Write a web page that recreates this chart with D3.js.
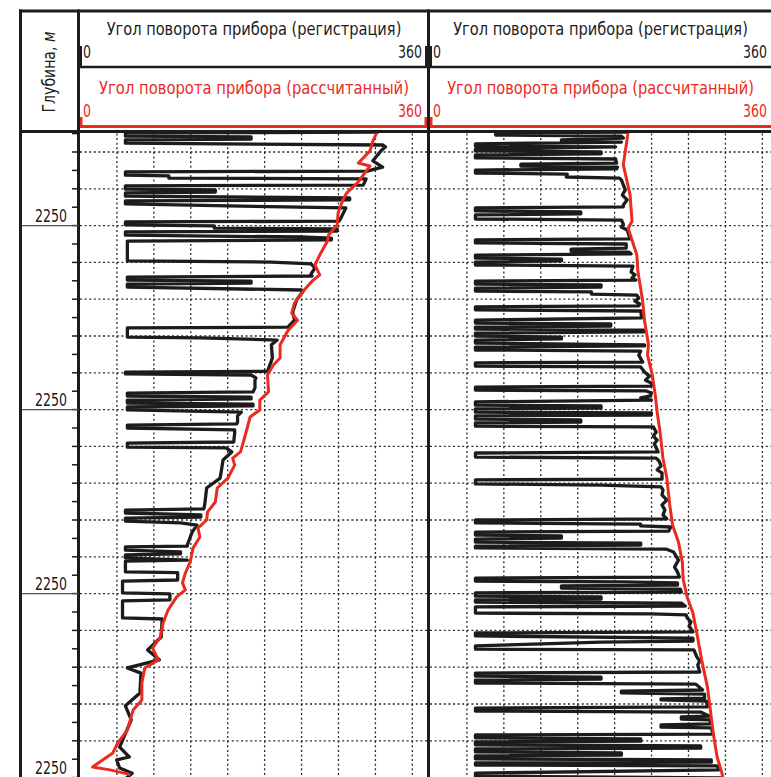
<!DOCTYPE html>
<html>
<head>
<meta charset="utf-8">
<script src="https://cdn.jsdelivr.net/npm/d3@7"></script>
<style>
body { margin: 0; background: #fff; }
svg { display: block; font-family: "Liberation Sans Narrow", "DejaVu Sans Condensed", "Liberation Sans", sans-serif; }
</style>
</head>
<body>
<svg id="chart" width="771" height="777"></svg>
<script>
// ---- data ----
const depthLabelDepths = [2250, 2255, 2260, 2265];
const depthLabelTexts = ["2250", "2250", "2250", "2250"];
const angleDomain = [0, 360];
const angleLabels = ["0", "360"];
const regTitle = "Угол поворота прибора (регистрация)";
const calcTitle = "Угол поворота прибора (рассчитанный)";

// [depth m, angle deg] - registered tool rotation, track 1
const regTrack1 = [
  [2247.46,309],[2247.48,47],[2247.57,47],[2247.59,177],[2247.65,177],[2247.67,47],[2247.76,47],[2247.81,313],
  [2247.86,316],[2247.95,312],[2248.24,303],[2248.41,313],[2248.52,297],[2248.54,47],[2248.63,47],[2248.65,92],
  [2248.71,92],[2248.73,296],[2248.90,293],[2248.92,47],[2249.01,47],[2249.03,140],[2249.09,140],[2249.11,47],
  [2249.20,47],[2249.25,279],[2249.30,279],[2249.33,47],[2249.41,47],[2249.47,167],[2249.52,275],[2249.79,270],
  [2249.88,268],[2249.90,47],[2249.98,47],[2250.01,139],[2250.07,139],[2250.09,266],[2250.15,266],[2250.17,47],
  [2250.26,47],[2250.31,229],[2250.34,260],[2250.39,260],[2250.42,49],[2250.96,49],[2250.99,198],[2251.04,239],
  [2251.15,243],[2251.32,239],[2251.37,240],[2251.40,49],[2251.48,49],[2251.51,177],[2251.56,177],[2251.59,49],
  [2251.67,49],[2251.75,229],[2251.78,231],[2252.02,224],[2252.35,220],[2252.57,222],[2252.76,215],[2252.78,49],
  [2253.03,49],[2253.05,125],[2253.11,204],[2253.24,198],[2253.60,199],[2253.96,194],[2253.98,47],[2254.03,47],
  [2254.06,177],[2254.14,182],[2254.20,181],[2254.41,181],[2254.52,179],[2254.55,49],[2254.63,49],[2254.66,177],
  [2254.71,177],[2254.74,49],[2254.82,49],[2254.85,179],[2254.90,179],[2254.93,49],[2255.01,49],[2255.07,167],
  [2255.17,163],[2255.34,163],[2255.39,162],[2255.42,49],[2255.50,49],[2255.55,160],[2255.64,160],[2255.88,159],
  [2255.91,49],[2256.02,49],[2256.04,151],[2256.15,157],[2256.37,148],[2256.86,145],[2257.13,131],[2257.59,129],
  [2257.70,128],[2257.73,47],[2257.81,47],[2257.86,125],[2257.92,125],[2257.95,47],[2258.03,47],[2258.08,104],
  [2258.14,121],[2258.33,116],[2258.68,111],[2258.71,111],[2258.73,47],[2258.82,47],[2258.87,104],[2258.92,104],
  [2258.95,47],[2259.03,47],[2259.09,111],[2259.12,47],[2259.41,47],[2259.43,101],[2259.63,101],[2259.66,44],
  [2259.98,44],[2260.01,93],[2260.17,93],[2260.20,44],[2260.66,44],[2260.69,85],[2261.18,84],[2261.53,70],
  [2261.80,82],[2262.02,49],[2262.16,63],[2262.70,62],[2263.05,47],[2263.43,53],[2264.17,41],[2264.44,51],
  [2264.52,38],[2264.74,41],[2264.88,54],[2265.01,48]
];

// [depth m, angle deg] - calculated tool rotation, track 1
const calcTrack1 = [
  [2247.45,308],[2247.48,307],[2247.70,303],[2247.97,300],[2248.30,288],[2248.38,300],[2248.63,293],[2248.84,287],
  [2249.11,276],[2249.30,272],[2249.66,267],[2249.98,266],[2250.26,257],[2250.42,256],[2250.80,248],[2251.07,243],
  [2251.34,248],[2251.51,240],[2251.78,231],[2252.10,222],[2252.38,219],[2252.57,225],[2252.86,215],[2253.24,207],
  [2253.60,207],[2253.79,200],[2254.06,194],[2254.52,195],[2254.74,186],[2255.01,186],[2255.20,176],[2255.50,173],
  [2255.88,169],[2256.15,166],[2256.32,158],[2256.51,160],[2256.86,153],[2257.13,142],[2257.51,140],[2257.78,132],
  [2258.00,131],[2258.22,122],[2258.46,124],[2258.76,117],[2259.14,114],[2259.44,109],[2259.71,106],[2259.90,109],
  [2260.09,100],[2260.45,91],[2260.80,86],[2261.18,83],[2261.48,75],[2261.80,81],[2262.02,67],[2262.43,64],
  [2262.89,64],[2263.16,55],[2263.71,49],[2264.06,39],[2264.33,34],[2264.71,13],[2264.79,31],[2264.92,52]
];

// [depth m, angle deg] - registered tool rotation, track 2
const regTrack2 = [
  [2247.46,204],[2247.48,68],[2247.54,68],[2247.57,198],[2247.62,200],[2247.67,136],[2247.70,136],[2247.73,198],
  [2247.78,47],[2247.84,47],[2247.86,192],[2247.92,47],[2247.97,47],[2248.00,177],[2248.05,177],[2248.08,47],
  [2248.16,47],[2248.19,192],[2248.30,193],[2248.33,94],[2248.38,94],[2248.41,194],[2248.46,193],[2248.49,47],
  [2248.57,47],[2248.60,142],[2248.68,141],[2248.71,196],[2248.76,198],[2249.03,202],[2249.17,199],[2249.30,204],
  [2249.44,200],[2249.49,200],[2249.52,47],[2249.60,47],[2249.63,156],[2249.68,156],[2249.71,47],[2249.82,47],
  [2249.85,198],[2249.96,200],[2250.04,198],[2250.12,204],[2250.36,207],[2250.39,47],[2250.47,47],[2250.50,203],
  [2250.61,203],[2250.64,146],[2250.69,146],[2250.72,206],[2250.77,208],[2250.80,47],[2250.88,47],[2250.91,136],
  [2250.96,136],[2250.99,47],[2251.07,47],[2251.10,210],[2251.26,208],[2251.34,212],[2251.42,209],[2251.48,213],
  [2251.51,47],[2251.59,47],[2251.61,177],[2251.67,177],[2251.70,47],[2251.78,47],[2251.80,167],[2251.86,167],
  [2251.89,214],[2251.97,216],[2252.05,212],[2252.13,217],[2252.18,216],[2252.21,47],[2252.29,47],[2252.32,218],
  [2252.51,219],[2252.57,47],[2252.65,47],[2252.67,187],[2252.73,187],[2252.76,47],[2252.81,47],[2252.84,221],
  [2252.89,221],[2252.92,47],[2253.00,47],[2253.03,136],[2253.08,136],[2253.11,47],[2253.19,47],[2253.24,222],
  [2253.27,222],[2253.30,47],[2253.38,47],[2253.41,218],[2253.52,216],[2253.71,220],[2253.73,47],[2253.82,47],
  [2253.84,218],[2253.98,222],[2254.09,227],[2254.20,223],[2254.28,229],[2254.36,229],[2254.39,47],[2254.47,47],
  [2254.49,223],[2254.55,229],[2254.63,228],[2254.68,218],[2254.74,229],[2254.79,47],[2254.88,47],[2254.90,177],
  [2254.96,177],[2254.98,47],[2255.07,47],[2255.09,229],[2255.15,229],[2255.17,47],[2255.26,47],[2255.28,156],
  [2255.34,156],[2255.36,47],[2255.45,47],[2255.47,231],[2255.61,234],[2255.72,231],[2255.83,235],[2255.93,232],
  [2256.15,236],[2256.18,47],[2256.29,47],[2256.32,234],[2256.40,237],[2256.53,239],[2256.64,235],[2256.72,240],
  [2256.89,240],[2256.91,47],[2257.02,47],[2257.05,177],[2257.10,239],[2257.18,241],[2257.32,240],[2257.46,245],
  [2257.59,240],[2257.73,243],[2257.86,241],[2257.97,245],[2258.00,47],[2258.08,47],[2258.11,218],[2258.16,218],
  [2258.19,249],[2258.30,247],[2258.33,47],[2258.41,47],[2258.43,136],[2258.49,136],[2258.52,47],[2258.60,47],
  [2258.63,218],[2258.68,218],[2258.71,47],[2258.76,47],[2258.79,244],[2258.87,252],[2259.09,257],[2259.28,253],
  [2259.41,256],[2259.55,258],[2259.58,47],[2259.66,47],[2259.68,198],[2259.71,256],[2259.77,256],[2259.79,136],
  [2259.85,136],[2259.88,259],[2259.96,260],[2259.98,47],[2260.07,47],[2260.09,177],[2260.15,177],[2260.17,47],
  [2260.23,47],[2260.26,260],[2260.34,264],[2260.36,47],[2260.53,47],[2260.55,229],[2260.58,265],[2260.66,266],
  [2260.77,270],[2260.88,268],[2261.04,272],[2261.07,47],[2261.15,47],[2261.21,272],[2261.29,272],[2261.32,177],
  [2261.42,47],[2261.51,47],[2261.53,273],[2261.72,276],[2261.83,279],[2261.94,277],[2262.13,279],[2262.16,47],
  [2262.24,47],[2262.27,177],[2262.32,177],[2262.35,47],[2262.43,47],[2262.46,275],[2262.62,282],[2262.65,198],
  [2262.70,198],[2262.73,284],[2262.84,284],[2262.86,239],[2262.89,239],[2262.92,286],[2263.08,287],[2263.11,47],
  [2263.19,47],[2263.22,280],[2263.33,289],[2263.35,260],[2263.41,260],[2263.43,290],[2263.54,290],[2263.57,239],
  [2263.63,239],[2263.65,291],[2263.82,293],[2263.84,47],[2263.92,47],[2263.95,218],[2264.01,218],[2264.03,47],
  [2264.11,47],[2264.14,280],[2264.20,280],[2264.22,47],[2264.30,47],[2264.33,198],[2264.39,198],[2264.41,47],
  [2264.49,47],[2264.52,291],[2264.58,291],[2264.60,47],[2264.66,47],[2264.68,297],[2264.79,299],[2264.88,47],
  [2264.96,47],[2265.01,301]
];

// [depth m, angle deg] - calculated tool rotation, track 2
const calcTrack2 = [
  [2247.45,205],[2248.35,200],[2249.17,207],[2249.88,209],[2250.07,205],[2250.80,214],[2251.23,215],[2252.05,220],
  [2252.59,222],[2253.24,226],[2253.52,225],[2254.06,230],[2254.60,233],[2255.07,235],[2255.61,238],[2256.32,241],
  [2256.86,245],[2257.59,248],[2258.14,251],[2258.60,257],[2259.14,261],[2259.63,262],[2260.09,266],[2260.53,272],
  [2261.07,276],[2261.80,281],[2262.54,287],[2263.16,290],[2263.79,293],[2264.44,297],[2264.88,302],[2265.01,303]
];

// ---- layout ----
const W = 771, H = 777;
const frameTop = 11, rowSplit = 67, redBarY = 126.5, dataTop = 131.5;
const depthLeft = 20.5, depthRight = 78.5;
const gridStep = 38.2;
const RED = "#ea2b1f", INK = "#1c1c1c";
const FS = 18;

const svg = d3.select("#chart");

const y = d3.scaleLinear().domain([2248, 2265]).range([152, 777.6]);

const tracks = [
  {x: d3.scaleLinear().domain(angleDomain).range([80, 428]), reg: regTrack1, calc: calcTrack1, w1: 295, w2: 310},
  {x: d3.scaleLinear().domain(angleDomain).range([430, 778]), reg: regTrack2, calc: calcTrack2, w1: 295, w2: 307}
];

// condensed text: squeeze horizontally to the width measured on the reference
function fitText(parent, x, yy, parts, width, anchor, color) {
  const g = parent.append("g").attr("transform", `translate(${x},${yy})`);
  const t = g.append("text").attr("text-anchor", anchor)
    .attr("font-size", FS).attr("fill", color);
  parts.forEach(p => {
    const s = t.append("tspan").text(p.text);
    if (p.italic) s.attr("font-style", "italic");
  });
  const len = t.node().getComputedTextLength();
  t.attr("transform", `scale(${(width / len).toFixed(3)},1)`);
  return g;
}

const defs = svg.append("defs");

tracks.forEach((t, i) => {
  const x0 = t.x.range()[0], x1 = t.x.range()[1];
  const visRight = Math.min(x1, W);

  defs.append("clipPath").attr("id", "clip" + i)
    .append("rect").attr("x", x0).attr("y", dataTop + 1.5)
    .attr("width", x1 - x0).attr("height", H - dataTop);

  const g = svg.append("g");

  // grid
  const grid = g.append("g").attr("stroke", "#2a2a2a").attr("stroke-width", 1.3)
    .attr("stroke-dasharray", "2,2.6");
  grid.selectAll("line.h").data(d3.range(2248, 2266, 1)).join("line")
    .attr("class", "h")
    .attr("x1", x0).attr("x2", visRight)
    .attr("y1", d => y(d)).attr("y2", d => y(d));
  grid.selectAll("line.v").data(d3.range(gridStep, 360, gridStep)).join("line")
    .attr("class", "v")
    .attr("x1", d => t.x(d)).attr("x2", d => t.x(d))
    .attr("y1", dataTop + 2).attr("y2", H);

  const line = d3.line().x(d => t.x(d[1])).y(d => y(d[0]));

  const curves = g.append("g").attr("clip-path", `url(#clip${i})`);
  curves.append("path").datum(t.reg)
    .attr("d", line).attr("fill", "none")
    .attr("stroke", INK).attr("stroke-width", 3.3)
    .attr("stroke-linejoin", "round");
  curves.append("path").datum(t.calc)
    .attr("d", line).attr("fill", "none")
    .attr("stroke", RED).attr("stroke-width", 3)
    .attr("stroke-linejoin", "round");

  // header
  const cx = (x0 + visRight) / 2;
  const leftLab = x0 + 3, rightLab = Math.min(x1 - 6, W - 4);

  fitText(g, cx, 35, [{text: regTitle}], t.w1, "middle", INK);
  fitText(g, leftLab, 58, [{text: angleLabels[0]}], 8, "start", INK);
  fitText(g, rightLab, 58, [{text: angleLabels[1]}], 24, "end", INK);

  fitText(g, cx, 94, [{text: calcTitle}], t.w2, "middle", RED);
  fitText(g, leftLab, 117, [{text: angleLabels[0]}], 8, "start", RED);
  fitText(g, rightLab, 117, [{text: angleLabels[1]}], 24, "end", RED);

  // scale brackets
  g.append("path")
    .attr("d", `M${x0 + 1},46V${rowSplit}M${x1 - 2},46V${rowSplit}`)
    .attr("stroke", INK).attr("stroke-width", 2);
  g.append("path")
    .attr("d", `M${x0 + 1},117V${redBarY}H${x1 - 2}V117`)
    .attr("fill", "none").attr("stroke", RED).attr("stroke-width", 3);
});

// frame lines
const frame = svg.append("g").attr("stroke", INK).attr("fill", "none");
frame.append("line").attr("x1", depthLeft - 1.5).attr("x2", W).attr("y1", frameTop).attr("y2", frameTop).attr("stroke-width", 3);
frame.append("line").attr("x1", depthRight).attr("x2", W).attr("y1", rowSplit).attr("y2", rowSplit).attr("stroke-width", 2.5);
frame.append("line").attr("x1", depthLeft - 1.5).attr("x2", W).attr("y1", dataTop).attr("y2", dataTop).attr("stroke-width", 3);
frame.append("line").attr("x1", depthLeft).attr("x2", depthLeft).attr("y1", frameTop - 1.5).attr("y2", H).attr("stroke-width", 3);
frame.append("line").attr("x1", depthRight).attr("x2", depthRight).attr("y1", frameTop - 1.5).attr("y2", H).attr("stroke-width", 3);
frame.append("line").attr("x1", 428.5).attr("x2", 428.5).attr("y1", frameTop - 1.5).attr("y2", H).attr("stroke-width", 3);

// depth column
const depthG = svg.append("g");
depthG.selectAll("line.tick").data(d3.range(2247.5, 2265.01, 0.5)).join("line")
  .attr("class", "tick")
  .attr("x1", 72).attr("x2", depthRight)
  .attr("y1", d => y(d)).attr("y2", d => y(d))
  .attr("stroke", INK).attr("stroke-width", 1.5);
depthG.selectAll("line.sep").data(depthLabelDepths).join("line")
  .attr("class", "sep")
  .attr("x1", depthLeft + 1.5).attr("x2", depthRight)
  .attr("y1", d => y(d)).attr("y2", d => y(d))
  .attr("stroke", "#555").attr("stroke-width", 1.2);
depthLabelDepths.forEach((d, i) => {
  fitText(depthG, 67, y(d) - 4, [{text: depthLabelTexts[i]}], 32, "end", INK);
});

const depthTitle = fitText(svg, 0, 0, [{text: "Глубина, "}, {text: "м", italic: true}], 81, "middle", INK);
depthTitle.attr("transform", "translate(55,72) rotate(-90)");
</script>
</body>
</html>
